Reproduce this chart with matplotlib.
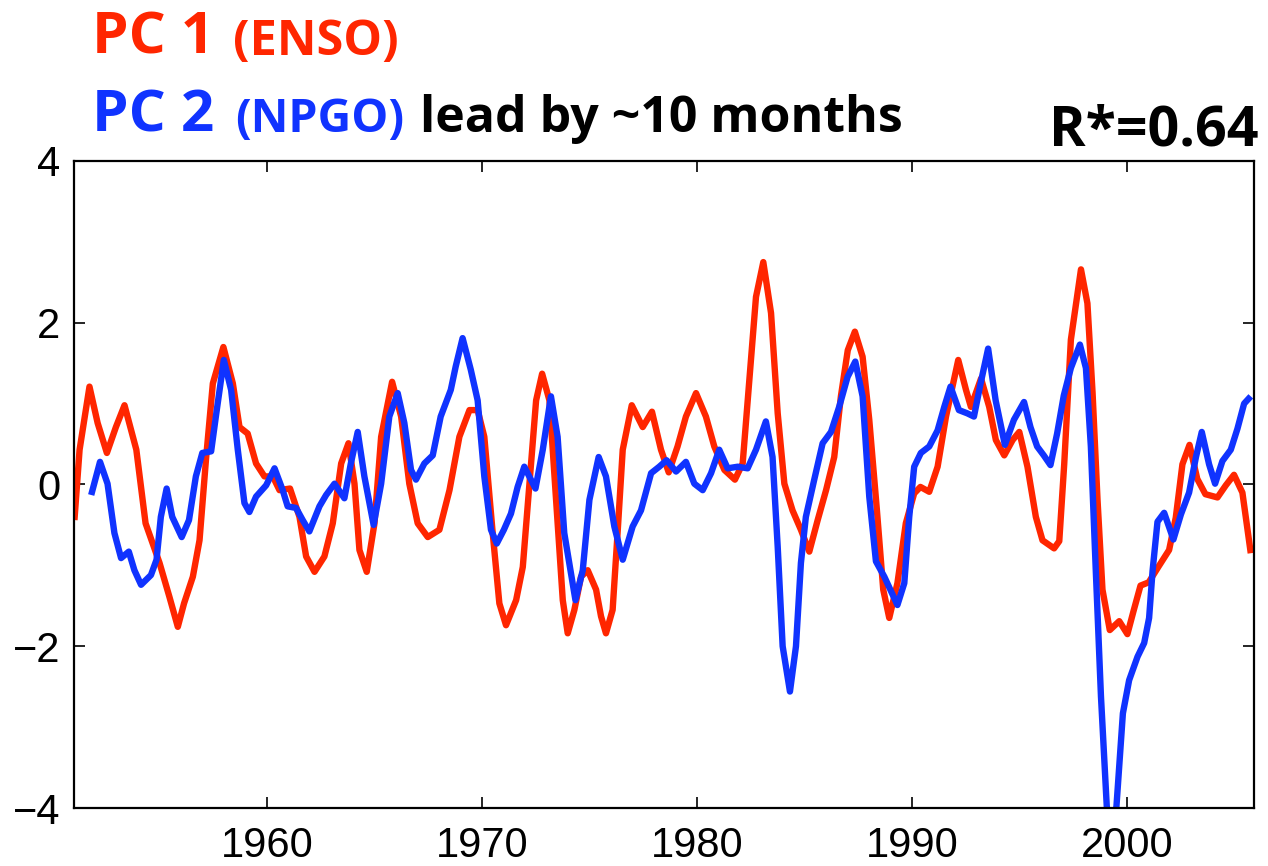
import matplotlib
matplotlib.use("Agg")
import matplotlib.pyplot as plt

# --- PC 1 (ENSO) ---
pc1_year = [1951.02, 1951.26, 1951.72, 1952.10, 1952.53, 1952.95, 1953.35, 1953.90, 1954.33,
            1954.66, 1954.98, 1955.44, 1955.83, 1956.12, 1956.53, 1956.84, 1957.15, 1957.46,
            1957.95, 1958.39, 1958.70, 1959.08, 1959.47, 1959.86, 1960.25, 1960.56, 1961.05,
            1961.49, 1961.80, 1962.19, 1962.65, 1963.04, 1963.43, 1963.77, 1964.05, 1964.28,
            1964.62, 1964.98, 1965.29, 1965.80, 1966.22, 1966.60, 1966.99, 1967.46, 1968.00,
            1968.47, 1968.93, 1969.40, 1969.78, 1970.09, 1970.48, 1970.79, 1971.10, 1971.57,
            1971.88, 1972.19, 1972.50, 1972.78, 1973.12, 1973.43, 1973.74, 1973.97, 1974.28,
            1974.59, 1974.90, 1975.29, 1975.52, 1975.75, 1976.06, 1976.29, 1976.53, 1976.95,
            1977.46, 1977.89, 1978.31, 1978.67, 1979.08, 1979.47, 1979.94, 1980.40, 1980.79,
            1981.26, 1981.75, 1982.11, 1982.42, 1982.73, 1983.07, 1983.43, 1983.74, 1984.05,
            1984.43, 1984.82, 1985.21, 1985.60, 1985.99, 1986.37, 1986.68, 1987.00, 1987.33,
            1987.69, 1988.00, 1988.35, 1988.65, 1988.93, 1989.31, 1989.70, 1990.09, 1990.38,
            1990.79, 1991.18, 1991.57, 1992.14, 1992.50, 1992.73, 1993.20, 1993.58, 1993.89,
            1994.28, 1994.67, 1994.98, 1995.36, 1995.75, 1996.06, 1996.60, 1996.84, 1997.07,
            1997.38, 1997.85, 1998.15, 1998.39, 1998.62, 1998.85, 1999.19, 1999.63, 2000.01,
            2000.30, 2000.62, 2001.00, 2001.47, 2001.95, 2002.26, 2002.57, 2002.90, 2003.26,
            2003.64, 2004.20, 2004.59, 2004.97, 2005.36, 2005.75]
pc1_val = [-0.44, 0.43, 1.21, 0.76, 0.39, 0.71, 0.98, 0.43, -0.48,
           -0.73, -0.97, -1.39, -1.76, -1.47, -1.14, -0.69, 0.34, 1.25,
           1.70, 1.25, 0.71, 0.63, 0.26, 0.10, 0.10, -0.07, -0.05,
           -0.40, -0.89, -1.08, -0.89, -0.48, 0.26, 0.51, 0.01, -0.81,
           -1.08, -0.48, 0.59, 1.27, 0.84, 0.01, -0.48, -0.65, -0.56,
           -0.07, 0.59, 0.92, 0.92, 0.59, -0.60, -1.47, -1.74, -1.43,
           -1.02, 0.01, 1.04, 1.37, 1.04, -0.19, -1.43, -1.84, -1.55,
           -1.14, -1.06, -1.30, -1.63, -1.84, -1.55, -0.60, 0.43, 0.98,
           0.71, 0.90, 0.43, 0.15, 0.47, 0.84, 1.13, 0.84, 0.47,
           0.18, 0.06, 0.26, 1.29, 2.32, 2.75, 2.12, 0.88, 0.01,
           -0.32, -0.56, -0.83, -0.44, -0.07, 0.34, 1.09, 1.66, 1.89,
           1.58, 0.80, -0.30, -1.30, -1.65, -1.22, -0.48, -0.11, -0.03,
           -0.09, 0.22, 0.84, 1.54, 1.17, 0.96, 1.31, 0.96, 0.55,
           0.36, 0.55, 0.65, 0.22, -0.40, -0.69, -0.79, -0.70, 0.25,
           1.79, 2.66, 2.24, 1.13, -0.19, -1.30, -1.80, -1.69, -1.85,
           -1.56, -1.25, -1.21, -1.01, -0.81, -0.41, 0.25, 0.49, 0.07,
           -0.12, -0.16, -0.01, 0.12, -0.10, -0.85]

# --- PC 2 (NPGO), shifted by ~10 months ---
pc2_year = [1951.80, 1952.21, 1952.56, 1952.88, 1953.19, 1953.55, 1953.81, 1954.12, 1954.58,
            1954.84, 1955.04, 1955.31, 1955.57, 1956.01, 1956.35, 1956.67, 1956.97, 1957.38,
            1957.60, 1957.97, 1958.31, 1958.62, 1958.93, 1959.16, 1959.47, 1959.94, 1960.33,
            1960.71, 1960.94, 1961.33, 1961.64, 1961.95, 1962.42, 1962.73, 1963.12, 1963.58,
            1963.88, 1964.20, 1964.51, 1964.94, 1965.29, 1965.67, 1966.06, 1966.37, 1966.68,
            1966.91, 1967.30, 1967.69, 1968.06, 1968.53, 1968.76, 1969.08, 1969.46, 1969.78,
            1970.09, 1970.40, 1970.67, 1971.00, 1971.33, 1971.64, 1971.95, 1972.47, 1972.81,
            1973.19, 1973.50, 1973.81, 1974.33, 1974.67, 1974.98, 1975.41, 1975.75, 1976.14,
            1976.53, 1976.99, 1977.38, 1977.85, 1978.23, 1978.57, 1979.01, 1979.47, 1979.86,
            1980.25, 1980.64, 1981.02, 1981.41, 1981.88, 1982.34, 1982.73, 1983.19, 1983.50,
            1983.74, 1983.97, 1984.31, 1984.59, 1984.82, 1985.05, 1985.44, 1985.83, 1986.22,
            1986.60, 1986.99, 1987.35, 1987.69, 1988.00, 1988.31, 1988.70, 1989.31, 1989.63,
            1989.86, 1990.09, 1990.40, 1990.79, 1991.18, 1991.49, 1991.78, 1992.17, 1992.56,
            1992.87, 1993.18, 1993.53, 1993.88, 1994.31, 1994.73, 1995.20, 1995.50, 1995.81,
            1996.12, 1996.43, 1996.74, 1997.05, 1997.38, 1997.80, 1998.08, 1998.31, 1998.54,
            1998.78, 1999.05, 1999.27, 1999.50, 1999.80, 2000.09, 2000.48, 2000.79, 2001.02,
            2001.18, 2001.41, 2001.72, 2002.15, 2002.50, 2002.88, 2003.20, 2003.47, 2003.81,
            2004.09, 2004.43, 2004.82, 2005.13, 2005.44, 2005.75]
pc2_val = [-0.13, 0.28, 0.01, -0.60, -0.91, -0.83, -1.06, -1.24, -1.12,
           -0.93, -0.40, -0.05, -0.40, -0.65, -0.44, 0.10, 0.39, 0.41,
           0.84, 1.54, 1.17, 0.43, -0.23, -0.34, -0.15, -0.01, 0.20,
           -0.07, -0.27, -0.29, -0.44, -0.58, -0.27, -0.13, 0.01, -0.17,
           0.26, 0.65, 0.10, -0.50, 0.01, 0.84, 1.13, 0.76, 0.18,
           0.06, 0.26, 0.36, 0.84, 1.17, 1.46, 1.81, 1.42, 1.04,
           0.10, -0.56, -0.73, -0.56, -0.36, -0.03, 0.22, -0.05, 0.43,
           1.09, 0.59, -0.60, -1.43, -1.06, -0.19, 0.34, 0.10, -0.52,
           -0.93, -0.52, -0.32, 0.14, 0.22, 0.30, 0.16, 0.28, 0.01,
           -0.07, 0.14, 0.43, 0.20, 0.22, 0.20, 0.43, 0.78, 0.34,
           -0.77, -2.00, -2.56, -2.00, -0.97, -0.40, 0.06, 0.51, 0.65,
           0.96, 1.33, 1.52, 1.09, -0.15, -0.95, -1.14, -1.49, -1.22,
           -0.40, 0.22, 0.39, 0.47, 0.67, 0.96, 1.21, 0.92, 0.88,
           0.84, 1.25, 1.68, 1.04, 0.49, 0.80, 1.02, 0.71, 0.47,
           0.36, 0.24, 0.63, 1.10, 1.44, 1.73, 1.44, 0.47, -1.07,
           -2.62, -3.98, -4.40, -3.98, -2.83, -2.42, -2.13, -1.96, -1.65,
           -1.07, -0.46, -0.35, -0.68, -0.37, -0.10, 0.34, 0.65, 0.25,
           0.01, 0.29, 0.43, 0.69, 1.00, 1.09]

x_ticks = [1960, 1970, 1980, 1990, 2000]
y_ticks = [-4, -2, 0, 2, 4]

RED = "#ff2600"
BLUE = "#1033ff"
W, H = 1268, 866

fig = plt.figure(figsize=(W / 100, H / 100), dpi=100)
ax = fig.add_axes([74 / W, 1 - 808 / H, (1254 - 74) / W, (808 - 161) / H])

ax.plot(pc1_year, pc1_val, color=RED, lw=4.6, solid_capstyle="butt", solid_joinstyle="round")
ax.plot(pc2_year, pc2_val, color=BLUE, lw=4.6, solid_capstyle="butt", solid_joinstyle="round")

ax.set_xlim(1951.0, 2005.9)
ax.set_ylim(-4, 4)
ax.set_xticks(x_ticks)
ax.set_yticks(y_ticks)
for sp in ax.spines.values():
    sp.set_linewidth(1.6)
ax.tick_params(direction="in", length=8, width=1.2, top=True, right=True,
               labelsize=30)
ax.tick_params(axis="x", pad=13)
ax.tick_params(axis="y", pad=10)
for lab in ax.get_xticklabels() + ax.get_yticklabels():
    lab.set_fontfamily("Liberation Sans")

# titre en morceaux de couleurs
tfont = dict(family="Open Sans", weight="bold", va="baseline")
fig.text(92 / W, 1 - 53 / H, "PC 1", color=RED, fontsize=42, **tfont)
fig.text(233 / W, 1 - 55 / H, "(ENSO)", color=RED, fontsize=35, **tfont)
fig.text(92 / W, 1 - 132 / H, "PC 2", color=BLUE, fontsize=42, **tfont)
fig.text(235 / W, 1 - 132 / H, "(NPGO)", color=BLUE, fontsize=33.5, **tfont)
fig.text(420 / W, 1 - 132 / H, "lead by ~10 months", color="black", fontsize=36, **tfont)
fig.text(1258 / W, 1 - 146 / H, "R*=0.64", color="black", fontsize=40, ha="right", **tfont)

fig.savefig("out.png", dpi=100)
